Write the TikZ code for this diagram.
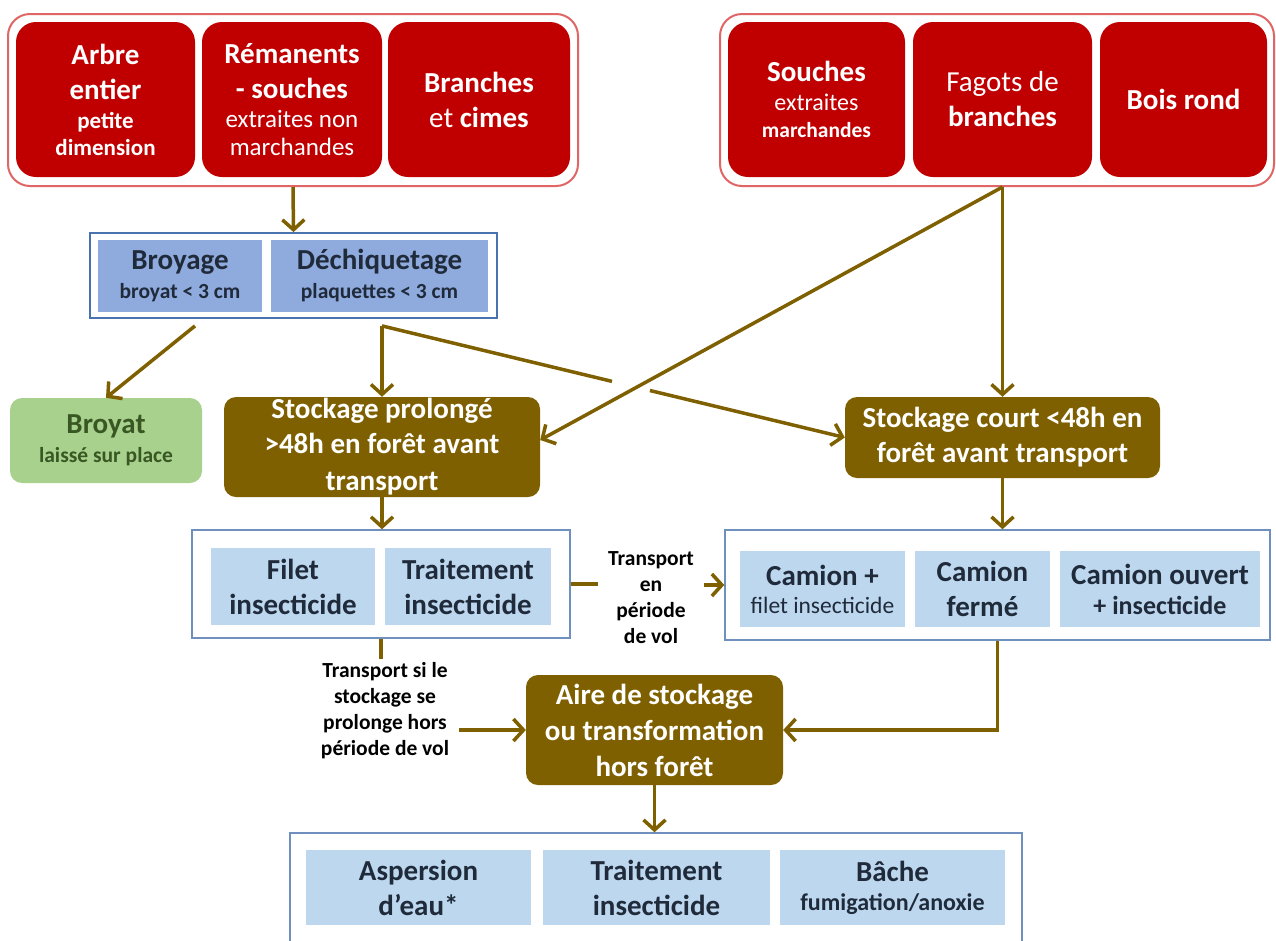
\documentclass[tikz,border=0pt]{standalone}
\usepackage{fontspec}
\setmainfont{Carlito}
\usetikzlibrary{arrows.meta,calc}
\definecolor{cRed}{HTML}{C00000}
\definecolor{cRedLine}{HTML}{E06666}
\definecolor{cOlive}{HTML}{7F6000}
\definecolor{cMidBlue}{HTML}{8FAADC}
\definecolor{cLightBlue}{HTML}{BDD7EE}
\definecolor{cGrpBlue}{HTML}{4A72B0}
\definecolor{cGrpBlueL}{HTML}{6F8FBF}
\definecolor{cNavy}{HTML}{1F2A3A}
\definecolor{cGreen}{HTML}{A9D18E}
\definecolor{cGreenText}{HTML}{385723}
\newcommand\bigtxt{\fontsize{29}{35}\selectfont\bfseries}
\newcommand\smb{\fontsize{21.5}{26}\selectfont\bfseries}
\newcommand\smr{\fontsize{21.5}{26}\selectfont\mdseries}
\newcommand\lbltxt{\fontsize{21.5}{26}\selectfont\bfseries}
\begin{document}
\begin{tikzpicture}[x=1pt,y=-1pt,
  every node/.style={inner sep=0pt, align=center},
  redout/.style={draw=cRedLine, line width=2pt, rounded corners=22pt, fill=white},
  redbox/.style={fill=cRed, text=white, rounded corners=20pt, font=\bigtxt},
  bluegrp/.style={draw=cGrpBlue, line width=1.8pt, fill=white},
  lightgrp/.style={draw=cGrpBlueL, line width=1.5pt, fill=white},
  midbox/.style={fill=cMidBlue, text=cNavy, font=\bigtxt},
  lightbox/.style={fill=cLightBlue, text=cNavy, font=\bigtxt},
  olivebox/.style={fill=cOlive, text=white, rounded corners=12pt, font=\bigtxt},
  greenbox/.style={fill=cGreen, text=cGreenText, rounded corners=12pt, font=\bigtxt},
  lbl/.style={font=\lbltxt, text=black, inner xsep=10pt, inner ysep=4pt},
  conn/.style={draw=cOlive, line width=3.5pt},
  arr/.style={conn, -{Straight Barb[length=10pt,width=22pt,line width=3.5pt]}}
]
\useasboundingbox (0,0) rectangle (1276,940);
\clip (0,0) rectangle (1276,940);
\fill[white] (0,0) rectangle (1276,940);

% top left group
\node[redout, minimum width=570pt, minimum height=172pt] (topL) at (293,100) {};
\node[redbox, minimum width=179pt, minimum height=155pt] (arbre) at (105.5,99.5)
  {Arbre\\entier\\[-6pt]{\fontsize{23}{28}\selectfont petite}\\[-8pt]{\fontsize{23}{28}\selectfont dimension}};
\node[redbox, minimum width=180pt, minimum height=155pt] (remanents) at (292,99.5)
  {Rémanents\\- souches\\[-6pt]{\fontsize{25}{28}\selectfont\mdseries extraites non}\\[-7pt]{\fontsize{25}{28}\selectfont\mdseries marchandes}};
\node[redbox, minimum width=182pt, minimum height=155pt] (branches) at (479,99.5)
  {Branches\\{\mdseries et} cimes};

% top right group
\node[redout, minimum width=554pt, minimum height=172pt] (topR) at (997,100) {};
\node[redbox, minimum width=177pt, minimum height=155pt] (souches) at (816.5,99.5)
  {Souches\\[-6pt]{\fontsize{24}{28}\selectfont\mdseries extraites}\\[-8pt]\smb marchandes};
\node[redbox, minimum width=179pt, minimum height=155pt] (fagots) at (1002.5,99.5)
  {{\mdseries Fagots de}\\branches};
\node[redbox, minimum width=167pt, minimum height=155pt] (bois) at (1183.5,99.5)
  {Bois rond};

% broyage group
\node[bluegrp, minimum width=407pt, minimum height=85pt] (broyG) at (293.5,275.5) {};
\node[midbox, minimum width=164pt, minimum height=72pt] (broyage) at (180,276)
  {Broyage\\[-6pt]\smb broyat < 3 cm};
\node[midbox, minimum width=217pt, minimum height=72pt] (dechi) at (379.5,276)
  {Déchiquetage\\[-6pt]\smb plaquettes < 3 cm};

% broyat
\node[greenbox, minimum width=192pt, minimum height=85pt] (broyat) at (106,440.5)
  {Broyat\\[-6pt]\smb laissé sur place};

% stockage
\node[olivebox, minimum width=316pt, minimum height=100pt] (stockP) at (382,447)
  {Stockage prolongé\\[0pt]>48h en forêt avant\\[2pt]transport};
\node[olivebox, minimum width=315pt, minimum height=81pt] (stockC) at (1002.5,437.5)
  {Stockage court <48h en\\forêt avant transport};

% filet group
\node[lightgrp, minimum width=378pt, minimum height=108pt] (filetG) at (381,584) {};
\node[lightbox, minimum width=164pt, minimum height=77pt] (filet) at (293,586.5)
  {Filet\\insecticide};
\node[lightbox, minimum width=166pt, minimum height=77pt] (traitF) at (468,586.5)
  {Traitement\\insecticide};

% camion group
\node[lightgrp, minimum width=545pt, minimum height=110pt] (camG) at (997.5,585) {};
\node[lightbox, minimum width=165pt, minimum height=76pt] (cam1) at (822.5,589)
  {Camion +\\[-7pt]{\fontsize{23.5}{28}\selectfont\mdseries filet insecticide}};
\node[lightbox, minimum width=135pt, minimum height=76pt] (cam2) at (982.5,589)
  {Camion\\fermé};
\node[lightbox, minimum width=200pt, minimum height=76pt] (cam3) at (1160,589)
  {Camion ouvert\\[-5pt]{\fontsize{26}{30}\selectfont + insecticide}};

% aire
\node[olivebox, minimum width=257pt, minimum height=110pt] (aire) at (654.5,730)
  {Aire de stockage\\[1pt]ou transformation\\[1pt]hors forêt};

% bottom group
\node[lightgrp, minimum width=732pt, minimum height=127pt] (botG) at (656,896.5) {};
\node[lightbox, minimum width=225pt, minimum height=75pt] (asp) at (418.5,887.5)
  {Aspersion\\d’eau*};
\node[lightbox, minimum width=227pt, minimum height=75pt] (trait2) at (656.5,887.5)
  {Traitement\\insecticide};
\node[lightbox, minimum width=225pt, minimum height=75pt] (bache) at (892.5,887.5)
  {Bâche\\[-6pt]{\fontsize{24}{28}\selectfont fumigation/anoxie}};

% labels
\node[lbl] (lblVol) at (651,598) {Transport\\en\\période\\de vol};
\node[lbl] (lblHors) at (385,711) {Transport si le\\stockage se\\prolonge hors\\période de vol};

% connectors
\draw[arr] (topL.south) -- (broyG.north);
\draw[arr] ([xshift=15pt,yshift=-7pt]broyage.south |- broyG.south) -- (broyat.north);
\coordinate (split) at ([yshift=-7pt]broyG.south -| stockP.north);
\draw[arr] (split) -- (stockP.north);
\draw[conn] (split) -- ($(split)!0.497!(stockC.west)$);
\draw[arr] ($(split)!0.579!(stockC.west)$) -- (stockC.west);
\coordinate (fg) at (fagots.south |- topR.south);
\draw[arr] (fg) -- ([yshift=7pt]stockP.east);
\draw[arr] (fg) -- (stockC.north);
\draw[arr] (stockP.south) -- (stockP.south |- filetG.north);
\draw[arr] (stockC.south) -- (stockC.south |- camG.north);
\draw[conn] (filetG.east) -- (lblVol.west |- filetG.east);
\draw[arr] (lblVol.east |- camG.west) -- (camG.west);
\draw[conn] (filetG.south) -- (lblHors.north -| filetG.south);
\draw[arr] (lblHors.east |- aire.west) -- (aire.west);
\draw[arr] (camG.south) |- (aire.east);
\draw[arr] (aire.south) -- (aire.south |- botG.north);
\end{tikzpicture}
\end{document}
